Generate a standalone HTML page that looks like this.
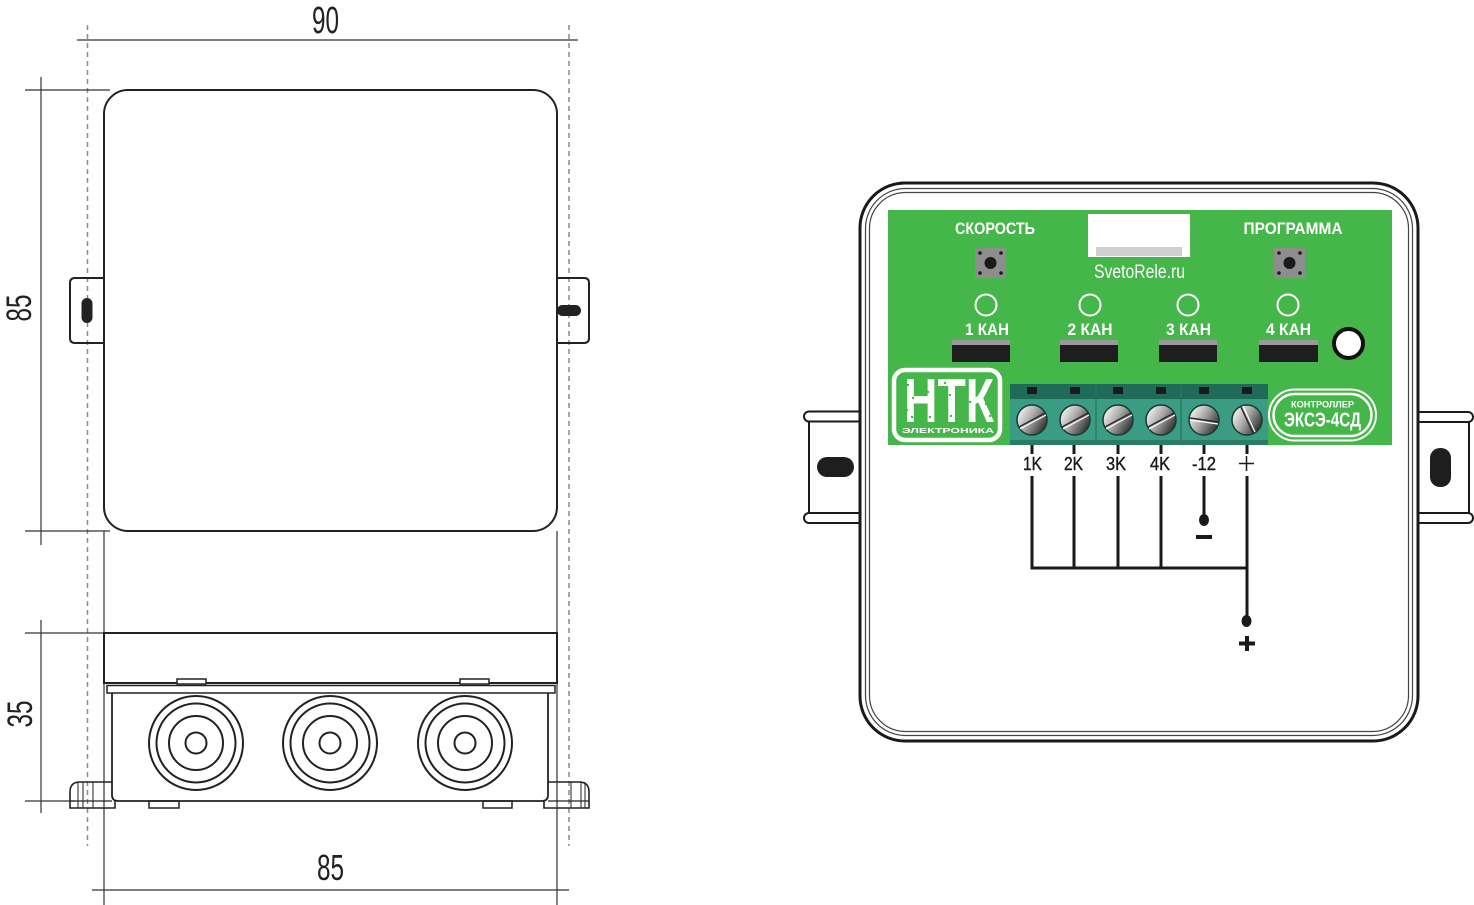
<!DOCTYPE html>
<html><head><meta charset="utf-8"><style>
html,body{margin:0;padding:0;background:#fff;}
svg{display:block;}
text{font-family:"Liberation Sans Narrow","Liberation Sans",sans-serif;}
</style></head><body>
<svg width="1474" height="905" viewBox="0 0 1474 905" xmlns="http://www.w3.org/2000/svg">
<defs>
<linearGradient id="scr" x1="0" y1="0.2" x2="1" y2="0.8">
<stop offset="0" stop-color="#fbfbfb"/><stop offset="0.45" stop-color="#a9a9a9"/><stop offset="1" stop-color="#222"/>
</linearGradient>
</defs>
<rect width="1474" height="905" fill="#fff"/>

<!-- ============ LEFT DRAWING ============ -->
<g stroke="#8a8a8a" stroke-width="1.5" stroke-dasharray="5,4">
<line x1="87.5" y1="25" x2="87.5" y2="846"/>
<line x1="569" y1="25" x2="569" y2="846"/>
</g>
<g stroke="#333" stroke-width="1.2" fill="none">
<line x1="77" y1="40" x2="578" y2="40"/>
<line x1="41" y1="77" x2="41" y2="545"/>
<line x1="25" y1="90" x2="110" y2="90"/>
<line x1="25" y1="531" x2="110" y2="531"/>
<line x1="41" y1="620" x2="41" y2="813"/>
<line x1="25" y1="633" x2="104" y2="633"/>
<line x1="25" y1="801" x2="75" y2="801"/>
<line x1="92" y1="890" x2="569" y2="890"/>
<line x1="104" y1="531" x2="104" y2="905"/>
<line x1="557" y1="531" x2="557" y2="905"/>
</g>
<text x="325.5" y="33" font-size="38" text-anchor="middle" textLength="27" lengthAdjust="spacingAndGlyphs" fill="#222">90</text>
<text transform="translate(31,308) rotate(-90)" font-size="35" text-anchor="middle" textLength="27" lengthAdjust="spacingAndGlyphs" fill="#222">85</text>
<text transform="translate(32,714) rotate(-90)" font-size="35" text-anchor="middle" textLength="27" lengthAdjust="spacingAndGlyphs" fill="#222">35</text>
<text x="330.5" y="880" font-size="36" text-anchor="middle" textLength="27" lengthAdjust="spacingAndGlyphs" fill="#222">85</text>

<g stroke="#222" stroke-width="2" fill="none">
<rect x="104" y="90" width="453" height="441" rx="24"/>
<path d="M104 278 H75 Q70 278 70 283 V338 Q70 343 75 343 H104"/>
<path d="M557 278 H584 Q589 278 589 283 V338 Q589 343 584 343 H557"/>
</g>
<rect x="81.5" y="298" width="11" height="25" rx="5.5" fill="#222"/>
<rect x="557" y="305" width="24" height="11" rx="5.5" fill="#222"/>

<g stroke="#222" fill="none">
<rect x="104" y="633" width="453" height="50" stroke-width="2"/>
<rect x="177" y="679" width="29" height="5" stroke-width="1.5" fill="#fff"/>
<rect x="460" y="679" width="29" height="5" stroke-width="1.5" fill="#fff"/>
<rect x="107" y="685.5" width="448" height="7.5" stroke-width="1.5"/>
<path d="M112 693 V795 Q112 801 118 801 H542 Q548 801 548 795 V693" stroke-width="1.8"/>
<path d="M112 782 H80 Q70 782 70 792 V808 H115 V801" stroke-width="1.6"/>
<line x1="78" y1="782" x2="78" y2="808" stroke-width="1"/>
<line x1="83" y1="782" x2="83" y2="808" stroke-width="1"/>
<line x1="93" y1="782" x2="93" y2="808" stroke-width="1"/>
<line x1="70" y1="801" x2="112" y2="801" stroke-width="1.2"/>
<path d="M548 782 H579 Q589 782 589 792 V808 H544 V801" stroke-width="1.6"/>
<line x1="571" y1="782" x2="571" y2="808" stroke-width="1"/>
<line x1="581" y1="782" x2="581" y2="808" stroke-width="1"/>
<line x1="585" y1="782" x2="585" y2="808" stroke-width="1"/>
<line x1="548" y1="801" x2="589" y2="801" stroke-width="1.2"/>
<rect x="149" y="801" width="30" height="7" stroke-width="1.5"/>
<rect x="483" y="801" width="29" height="7" stroke-width="1.5"/>
<g stroke-width="2">
<circle cx="196" cy="743" r="47"/><circle cx="196" cy="743" r="39.5"/><circle cx="196" cy="743" r="27"/><circle cx="196" cy="743" r="10.5"/>
<circle cx="330" cy="743" r="47"/><circle cx="330" cy="743" r="39.5"/><circle cx="330" cy="743" r="27"/><circle cx="330" cy="743" r="10.5"/>
<circle cx="465" cy="743" r="47"/><circle cx="465" cy="743" r="39.5"/><circle cx="465" cy="743" r="27"/><circle cx="465" cy="743" r="10.5"/>
</g>
</g>

<!-- ============ RIGHT DRAWING ============ -->
<g stroke="#1a1a1a" stroke-width="2" fill="#fff">
<rect x="804" y="411.5" width="62" height="10" rx="5"/>
<rect x="804" y="513" width="62" height="10" rx="5"/>
<line x1="809" y1="421.5" x2="809" y2="513"/>
<rect x="1410" y="412" width="63" height="10" rx="5"/>
<rect x="1410" y="513" width="63" height="10" rx="5"/>
<line x1="1469" y1="422" x2="1469" y2="513"/>
</g>
<rect x="817" y="457" width="37" height="20" rx="10" fill="#1e1e1e"/>
<rect x="1430" y="448" width="21" height="39" rx="10" fill="#1e1e1e"/>

<rect x="860" y="183" width="558" height="558" rx="45" fill="#fff" stroke="#1a1a1a" stroke-width="3"/>
<rect x="865.5" y="188.5" width="547" height="547" rx="40" fill="none" stroke="#444" stroke-width="1.2"/>
<rect x="869.5" y="192.5" width="539" height="539" rx="36" fill="none" stroke="#444" stroke-width="1.2"/>

<rect x="888" y="210" width="504" height="235" fill="#45b649"/>
<g fill="#fff" font-weight="bold">
<text x="995" y="234" font-size="17" text-anchor="middle" textLength="80" lengthAdjust="spacingAndGlyphs">СКОРОСТЬ</text>
<text x="1293" y="234" font-size="17" text-anchor="middle" textLength="99" lengthAdjust="spacingAndGlyphs">ПРОГРАММА</text>
<text x="987" y="335" font-size="17" text-anchor="middle" textLength="44" lengthAdjust="spacingAndGlyphs">1 КАН</text>
<text x="1090" y="335" font-size="17" text-anchor="middle" textLength="45" lengthAdjust="spacingAndGlyphs">2 КАН</text>
<text x="1188.5" y="335" font-size="17" text-anchor="middle" textLength="45" lengthAdjust="spacingAndGlyphs">3 КАН</text>
<text x="1288.5" y="335" font-size="17" text-anchor="middle" textLength="45" lengthAdjust="spacingAndGlyphs">4 КАН</text>
</g>
<text x="1139.5" y="278" font-size="19" fill="#fff" text-anchor="middle" textLength="91" lengthAdjust="spacingAndGlyphs">SvetoRele.ru</text>
<rect x="1088" y="214" width="102" height="43" fill="#fff"/>
<rect x="1096" y="247" width="86" height="9" fill="#cfcfcf"/>
<g>
<rect x="975" y="248" width="31" height="30" fill="#8d8d8d"/>
<circle cx="990.5" cy="263" r="6" fill="#1a1a1a"/>
<g fill="#1a1a1a"><circle cx="980" cy="253" r="1.8"/><circle cx="1001" cy="253" r="1.8"/><circle cx="980" cy="273" r="1.8"/><circle cx="1001" cy="273" r="1.8"/></g>
<rect x="1274" y="248" width="31" height="30" fill="#8d8d8d"/>
<circle cx="1289.5" cy="263" r="6" fill="#1a1a1a"/>
<g fill="#1a1a1a"><circle cx="1279" cy="253" r="1.8"/><circle cx="1300" cy="253" r="1.8"/><circle cx="1279" cy="273" r="1.8"/><circle cx="1300" cy="273" r="1.8"/></g>
</g>
<g fill="none" stroke="#fff" stroke-width="2">
<circle cx="986" cy="305" r="10.5"/><circle cx="1090" cy="305" r="10.5"/><circle cx="1188" cy="305" r="10.5"/><circle cx="1288" cy="305" r="10.5"/>
</g>
<g>
<rect x="952" y="340" width="58" height="22" fill="#1e1e1e"/><rect x="952" y="340" width="58" height="5" fill="#9a9a9a"/>
<rect x="1060" y="340" width="58" height="22" fill="#1e1e1e"/><rect x="1060" y="340" width="58" height="5" fill="#9a9a9a"/>
<rect x="1159" y="340" width="58" height="22" fill="#1e1e1e"/><rect x="1159" y="340" width="58" height="5" fill="#9a9a9a"/>
<rect x="1259" y="340" width="59" height="22" fill="#1e1e1e"/><rect x="1259" y="340" width="59" height="5" fill="#9a9a9a"/>
</g>
<circle cx="1348.5" cy="343.5" r="14.5" fill="#fff" stroke="#111" stroke-width="4"/>

<!-- logo -->
<rect x="894" y="370" width="106" height="70" rx="11" fill="none" stroke="#fff" stroke-width="4.5"/>
<text x="949" y="422" font-size="62" font-weight="bold" fill="#fff" text-anchor="middle" textLength="90" lengthAdjust="spacingAndGlyphs">НТК</text>
<g fill="#45b649">
<circle cx="908" cy="385" r="1.2"/><circle cx="913" cy="398" r="1.2"/><circle cx="907" cy="410" r="1.2"/><circle cx="912" cy="417" r="1.2"/>
<circle cx="928" cy="392" r="1.2"/><circle cx="925" cy="410" r="1.2"/><circle cx="930" cy="417" r="1.2"/>
<circle cx="945" cy="383" r="1.2"/><circle cx="950" cy="395" r="1.2"/><circle cx="947" cy="408" r="1.2"/><circle cx="951" cy="416" r="1.2"/>
<circle cx="966" cy="388" r="1.2"/><circle cx="970" cy="402" r="1.2"/><circle cx="967" cy="414" r="1.2"/>
<circle cx="981" cy="386" r="1.2"/><circle cx="986" cy="404" r="1.2"/><circle cx="990" cy="416" r="1.2"/>
</g>
<text x="948" y="433" font-size="7" font-weight="bold" fill="#fff" text-anchor="middle" textLength="92" lengthAdjust="spacingAndGlyphs">ЭЛЕКТРОНИКА</text>

<!-- badge -->
<rect x="1269" y="389.5" width="107" height="51" rx="25.5" fill="none" stroke="#fff" stroke-width="2"/>
<rect x="1273.5" y="394" width="98" height="42" rx="21" fill="none" stroke="#fff" stroke-width="2.5"/>
<text x="1322.5" y="407.5" font-size="9.5" font-weight="bold" fill="#fff" text-anchor="middle" textLength="63" lengthAdjust="spacingAndGlyphs">КОНТРОЛЛЕР</text>
<text x="1322.5" y="426.5" font-size="20" font-weight="bold" fill="#fff" text-anchor="middle" textLength="77" lengthAdjust="spacingAndGlyphs">ЭКСЭ-4СД</text>

<!-- terminal block -->
<rect x="1010" y="384" width="258" height="61" fill="#3a9c82"/>
<rect x="1010" y="384" width="258" height="15" fill="#1f6b57"/>
<rect x="1010" y="440" width="258" height="5" fill="#2b7c65"/>
<g stroke="#2a7560" stroke-width="1.2"><line x1="1096" y1="384" x2="1096" y2="445"/><line x1="1181" y1="384" x2="1181" y2="445"/></g>
<g fill="#1a1a1a">
<rect x="1027" y="387" width="10" height="7"/><rect x="1070" y="387" width="10" height="7"/><rect x="1113" y="387" width="10" height="7"/>
<rect x="1156" y="387" width="10" height="7"/><rect x="1199" y="387" width="10" height="7"/><rect x="1242" y="387" width="10" height="7"/>
</g>
<g stroke="#163b30" stroke-width="1.5" fill="url(#scr)">
<circle cx="1032" cy="420" r="15"/><circle cx="1075" cy="420" r="15"/><circle cx="1118" cy="420" r="15"/>
<circle cx="1161" cy="420" r="15"/><circle cx="1204" cy="420" r="15"/><circle cx="1247" cy="420" r="15"/>
</g>
<g stroke-width="1.5">
<g stroke="#2a2a2a">
<line x1="1019" y1="427" x2="1045" y2="413"/><line x1="1062" y1="427" x2="1088" y2="413"/>
<line x1="1105" y1="427" x2="1131" y2="413"/><line x1="1148" y1="427" x2="1174" y2="413"/>
<line x1="1190" y1="418" x2="1218" y2="422"/><line x1="1241" y1="407" x2="1253" y2="433"/>
</g>
<g stroke="#fff" stroke-width="1.2">
<line x1="1020" y1="429" x2="1046" y2="415"/><line x1="1063" y1="429" x2="1089" y2="415"/>
<line x1="1106" y1="429" x2="1132" y2="415"/><line x1="1149" y1="429" x2="1175" y2="415"/>
<line x1="1190" y1="420" x2="1218" y2="424"/><line x1="1243" y1="406" x2="1255" y2="432"/>
</g>
</g>

<!-- wiring -->
<g stroke="#1a1a1a" stroke-width="3" fill="none">
<line x1="1032" y1="445" x2="1032" y2="454"/><line x1="1074" y1="445" x2="1074" y2="454"/>
<line x1="1118" y1="445" x2="1118" y2="454"/><line x1="1161" y1="445" x2="1161" y2="454"/>
<line x1="1204" y1="445" x2="1204" y2="454"/><line x1="1247" y1="445" x2="1247" y2="454"/>
<line x1="1032" y1="476" x2="1032" y2="569.5"/><line x1="1074" y1="476" x2="1074" y2="568"/>
<line x1="1118" y1="476" x2="1118" y2="568"/><line x1="1161" y1="476" x2="1161" y2="568"/>
<line x1="1204" y1="476" x2="1204" y2="518"/>
<line x1="1247" y1="476" x2="1247" y2="620"/>
<line x1="1030.5" y1="568" x2="1247" y2="568"/>
</g>
<ellipse cx="1204" cy="520" rx="5" ry="6" fill="#1a1a1a"/>
<ellipse cx="1246.5" cy="621" rx="5" ry="6" fill="#1a1a1a"/>
<rect x="1196" y="535" width="16" height="4" fill="#1a1a1a"/>
<g stroke="#1a1a1a" stroke-width="4"><line x1="1239" y1="643.5" x2="1255" y2="643.5"/><line x1="1247" y1="636" x2="1247" y2="651"/></g>
<g fill="#1a1a1a" font-size="18" stroke="#1a1a1a" stroke-width="0.4">
<text x="1032.5" y="470" text-anchor="middle" textLength="19" lengthAdjust="spacingAndGlyphs">1K</text>
<text x="1073.5" y="470" text-anchor="middle" textLength="19" lengthAdjust="spacingAndGlyphs">2K</text>
<text x="1116" y="470" text-anchor="middle" textLength="20" lengthAdjust="spacingAndGlyphs">3K</text>
<text x="1160" y="470" text-anchor="middle" textLength="20" lengthAdjust="spacingAndGlyphs">4K</text>
<text x="1204" y="470" text-anchor="middle" textLength="24" lengthAdjust="spacingAndGlyphs">-12</text>
</g>
<g stroke="#1a1a1a" stroke-width="1.5"><line x1="1239" y1="463.5" x2="1254" y2="463.5"/><line x1="1246.5" y1="456" x2="1246.5" y2="471"/></g>
</svg>
</body></html>
